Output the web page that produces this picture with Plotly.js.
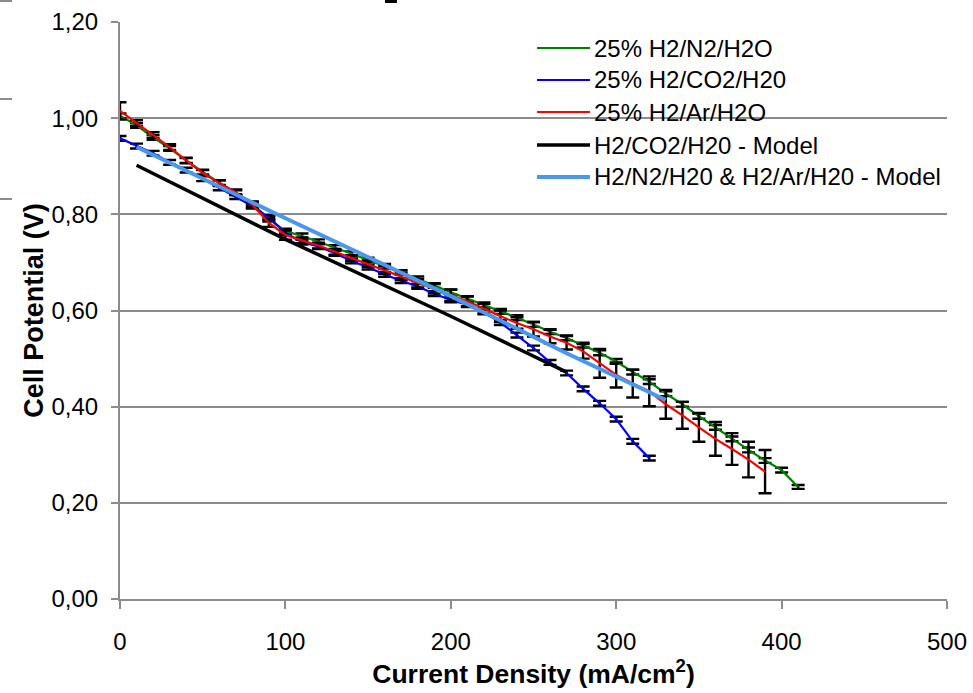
<!DOCTYPE html>
<html>
<head>
<meta charset="utf-8">
<script src="https://cdn.plot.ly/plotly-3.0.1.min.js"></script>
<style>
html,body{margin:0;padding:0;background:#fff;}
#chart{width:973px;height:693px;}
</style>
</head>
<body>
<div id="chart"></div>
<script>
// ---- data ----
var greenX = [0,10,20,30,40,50,60,70,80,90,100,110,120,130,140,150,160,170,180,190,200,210,220,230,240,250,260,270,280,290,300,310,320,330,340,350,360,370,380,390,400,410];
var greenY = [1.005,0.985,0.96,0.937,0.912,0.888,0.866,0.845,0.822,0.79,0.765,0.755,0.743,0.731,0.718,0.705,0.692,0.679,0.666,0.652,0.638,0.625,0.612,0.598,0.585,0.571,0.556,0.543,0.528,0.512,0.494,0.472,0.452,0.427,0.405,0.38,0.357,0.333,0.31,0.288,0.268,0.233];
var greenErr = [0.005,0.005,0.005,0.005,0.005,0.005,0.005,0.005,0.005,0.005,0.005,0.005,0.005,0.005,0.005,0.005,0.005,0.005,0.005,0.005,0.005,0.005,0.005,0.005,0.005,0.005,0.005,0.005,0.005,0.005,0.005,0.005,0.005,0.005,0.005,0.005,0.005,0.005,0.005,0.005,0.005,0.004];

var blueX = [0,10,20,30,40,50,60,70,80,90,100,110,120,130,140,150,160,170,180,190,200,210,220,230,240,250,260,270,280,290,300,310,320];
var blueY = [0.958,0.942,0.927,0.908,0.892,0.874,0.855,0.837,0.817,0.793,0.762,0.742,0.733,0.719,0.703,0.69,0.675,0.662,0.65,0.635,0.622,0.612,0.597,0.575,0.549,0.522,0.492,0.47,0.437,0.407,0.374,0.328,0.293];
var blueErr = [0.005,0.005,0.005,0.005,0.005,0.005,0.005,0.005,0.005,0.005,0.005,0.005,0.005,0.005,0.005,0.005,0.005,0.005,0.005,0.005,0.005,0.005,0.005,0.005,0.005,0.005,0.005,0.005,0.005,0.005,0.005,0.005,0.005];

var redX = [0,10,20,30,40,50,60,70,80,90,100,110,120,130,140,150,160,170,180,190,200,210,220,230,240,250,260,270,280,290,300,310,320,330,340,350,360,370,380,390];
var redY = [1.015,0.99,0.965,0.94,0.912,0.886,0.865,0.846,0.82,0.782,0.757,0.746,0.735,0.722,0.709,0.697,0.684,0.671,0.657,0.645,0.632,0.619,0.604,0.588,0.574,0.561,0.546,0.533,0.515,0.49,0.466,0.448,0.432,0.405,0.382,0.357,0.333,0.312,0.29,0.265];
var redErr = [0.018,0.006,0.006,0.006,0.006,0.006,0.006,0.006,0.006,0.008,0.01,0.006,0.006,0.006,0.006,0.007,0.008,0.008,0.009,0.01,0.012,0.01,0.01,0.012,0.012,0.015,0.014,0.014,0.015,0.03,0.026,0.029,0.031,0.03,0.028,0.03,0.035,0.033,0.037,0.045];

var modelCO2X = [10,100,200,270];
var modelCO2Y = [0.902,0.748,0.588,0.472];

var modelN2X = [10,100,200,270,330];
var modelN2Y = [0.94,0.792,0.63,0.511,0.414];

var seriesNames = ["25% H2/N2/H2O","25% H2/CO2/H20","25% H2/Ar/H2O","H2/CO2/H20 - Model","H2/N2/H20 & H2/Ar/H20 - Model"];
var seriesColors = ['#008000','#0000ff','#ff0000','#000000','#4a98ee'];
var seriesWidths = [2.2,2.2,2.2,3.5,4];
var xTicks = [0,100,200,300,400,500];
var yTicks = [0,0.2,0.4,0.6,0.8,1.0,1.2];

// ---- chart ----
var FONT = "Liberation Sans, Arial, sans-serif";
function errBars(arr){
  return {type:'data', array:arr, visible:true, color:'#000000', thickness:2.4, width:6.5};
}
var traces = [
  {x:greenX, y:greenY, name:seriesNames[0], type:'scatter', mode:'lines',
   line:{color:seriesColors[0], width:seriesWidths[0]}, error_y:errBars(greenErr)},
  {x:blueX, y:blueY, name:seriesNames[1], type:'scatter', mode:'lines',
   line:{color:seriesColors[1], width:seriesWidths[1]}, error_y:errBars(blueErr)},
  {x:redX, y:redY, name:seriesNames[2], type:'scatter', mode:'lines',
   line:{color:seriesColors[2], width:seriesWidths[2]}, error_y:errBars(redErr)},
  {x:modelCO2X, y:modelCO2Y, name:seriesNames[3], type:'scatter', mode:'lines',
   line:{color:seriesColors[3], width:seriesWidths[3]}},
  {x:modelN2X, y:modelN2Y, name:seriesNames[4], type:'scatter', mode:'lines',
   line:{color:seriesColors[4], width:seriesWidths[4]}}
];

var gray = '#8c8c8c';

// Legend drawn as paper-referenced samples + labels (Excel-style long line samples)
var legendRowsY = [0.9549, 0.8995, 0.8440, 0.7868, 0.7314];
var legendShapes = [], legendAnns = [];
for (var i = 0; i < seriesNames.length; i++) {
  legendShapes.push({type:'line', xref:'paper', yref:'paper', x0:0.5042, x1:0.5683,
    y0:legendRowsY[i], y1:legendRowsY[i], line:{color:seriesColors[i], width:(i<3?2.2:seriesWidths[i])}});
  legendAnns.push({xref:'paper', yref:'paper', x:0.5710, y:legendRowsY[i], xanchor:'left', yanchor:'middle',
    text:seriesNames[i], showarrow:false, font:{family:FONT, size:24, color:'#000'}});
}

var layout = {
  width:973, height:693,
  margin:{l:120, r:26, t:22, b:94, pad:0},
  paper_bgcolor:'#ffffff', plot_bgcolor:'#ffffff',
  separators:', ',
  font:{family:FONT, size:24, color:'#000000'},
  showlegend:false,
  xaxis:{range:[0,500], tickvals:xTicks, ticktext:xTicks.map(String),
         showgrid:false, zeroline:false, showline:true, linecolor:gray, linewidth:2,
         ticks:'outside', ticklen:8, tickwidth:2, tickcolor:gray,
         tickfont:{family:FONT, size:24, color:'#000'}, ticklabelstandoff:12,
         title:{text:'<b>Current Density (mA/cm<sup>2</sup>)</b>', font:{family:FONT, size:26.5, color:'#000'}, standoff:6}},
  yaxis:{range:[0,1.2], tickvals:yTicks, tickformat:'.2f',
         showgrid:true, gridcolor:gray, gridwidth:2, zeroline:false,
         showline:true, linecolor:gray, linewidth:2,
         ticks:'outside', ticklen:7, tickwidth:2, tickcolor:gray,
         tickfont:{family:FONT, size:24, color:'#000'}, ticklabelstandoff:8,
         title:{text:'<b>Cell Potential (V)</b>', font:{family:FONT, size:27, color:'#000'}, standoff:0}},
  annotations: legendAnns,
  shapes: [
    {type:'line', xref:'paper', yref:'paper', x0:-0.1451, x1:-0.1306, y0:1.0364, y1:1.0364, line:{color:gray, width:2}},
    {type:'line', xref:'paper', yref:'paper', x0:-0.1451, x1:-0.1306, y0:0.8666, y1:0.8666, line:{color:gray, width:2}},
    {type:'line', xref:'paper', yref:'paper', x0:-0.1451, x1:-0.1306, y0:0.6932, y1:0.6932, line:{color:gray, width:2}},
    {type:'rect', xref:'paper', yref:'paper', x0:0.3204, x1:0.3349, y0:1.0329, y1:1.0381, fillcolor:'#000', line:{width:0}}
  ].concat(legendShapes)
};

Plotly.newPlot('chart', traces, layout, {displayModeBar:false, staticPlot:true});
</script>
</body>
</html>
